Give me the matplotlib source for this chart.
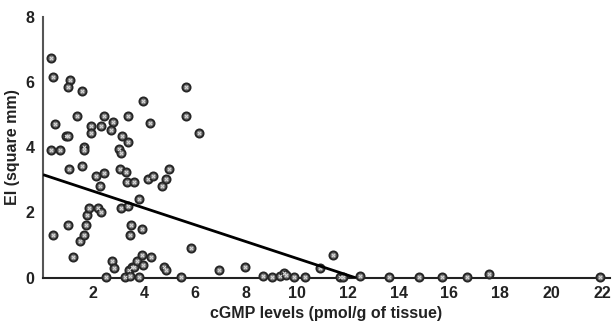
import numpy as np
import matplotlib
matplotlib.use('Agg')
import matplotlib.pyplot as plt

plt.rcParams['font.family'] = ['Liberation Sans', 'DejaVu Sans']

# cGMP levels (pmol/g of tissue) vs EI (square mm)
cgmp = [0.34, 0.44, 1.10, 1.01, 1.58, 0.52, 1.37, 0.93, 1.03, 0.35, 0.73, 1.66, 1.66,
        1.92, 1.91, 2.33, 2.42, 2.80, 2.71, 3.38, 3.15, 3.40, 3.02, 3.11, 3.95, 4.25,
        5.66, 5.66, 6.17,
        1.06, 1.56, 2.14, 2.44, 2.30, 3.06, 3.29, 3.35, 3.61, 3.80, 4.17, 4.37, 4.72,
        4.86, 4.98, 3.12, 3.38,
        0.42, 1.03, 1.24, 1.50, 1.65, 1.75, 1.78, 1.83, 2.21, 2.34, 2.51, 2.77, 2.85,
        3.49, 3.45, 3.93, 3.27, 3.42, 3.53, 3.63, 3.45, 3.75, 3.93, 3.97, 3.82, 4.30,
        4.78, 4.89, 5.48, 5.86, 6.94, 7.96, 8.68, 9.05, 9.33, 9.49, 9.60, 9.88, 10.31,
        10.93, 11.44, 11.69, 11.82, 12.50, 13.62, 14.80, 15.71, 16.68, 17.56, 21.91]
ei = [6.74, 6.15, 6.05, 5.84, 5.74, 4.72, 4.95, 4.33, 4.33, 3.92, 3.92, 4.02, 3.92,
      4.66, 4.44, 4.66, 4.95, 4.76, 4.54, 4.95, 4.35, 4.15, 3.95, 3.82, 5.43, 4.74,
      5.85, 4.95, 4.44,
      3.33, 3.43, 3.12, 3.22, 2.82, 3.33, 3.25, 2.94, 2.94, 2.41, 3.02, 3.12, 2.82,
      3.02, 3.33, 2.12, 2.20,
      1.30, 1.61, 0.62, 1.13, 1.30, 1.61, 1.91, 2.12, 2.13, 2.02, 0.02, 0.52, 0.28,
      1.61, 1.30, 1.50, 0.03, 0.23, 0.33, 0.31, 0.05, 0.52, 0.69, 0.38, 0.03, 0.62,
      0.33, 0.23, 0.02, 0.92, 0.23, 0.31, 0.05, 0.03, 0.05, 0.15, 0.07, 0.02, 0.02,
      0.28, 0.69, 0.02, 0.02, 0.05, 0.02, 0.02, 0.02, 0.02, 0.10, 0.03]

# regression line
fit_intercept = 3.17
fit_slope = -0.258
fit_start = 0.1

fig = plt.figure(figsize=(6.13, 3.25), dpi=100)
ax = fig.add_axes([0.070, 0.146, 0.925, 0.802])

ax.scatter(cgmp, ei, s=34, facecolor='#7a7a7a', edgecolor='#262626', linewidth=1.4,
           zorder=3, clip_on=False)
# light speck in the middle of each marker
ax.scatter(cgmp, ei, s=5, marker='x', color='#d8d8d8', linewidth=0.8, zorder=3,
           clip_on=False)

fit_end = -fit_intercept / fit_slope
fx = np.array([fit_start, fit_end])
ax.plot(fx, fit_intercept + fit_slope * fx, color='black', lw=2, zorder=4)

ax.set_xlim(0.04, 22.3)
ax.set_ylim(0, 8)
ax.set_xticks(range(2, 23, 2))
ax.set_yticks(range(0, 9, 2))
ax.tick_params(length=0, labelsize=11.5, pad=6)
for lab in ax.get_xticklabels() + ax.get_yticklabels():
    lab.set_fontweight('bold')
    lab.set_color('#222')

for s in ['top', 'right']:
    ax.spines[s].set_visible(False)
ax.spines['left'].set_color('#555')
ax.spines['bottom'].set_color('#222')
ax.spines['left'].set_linewidth(1.5)
ax.spines['bottom'].set_linewidth(1.5)

ax.set_xlabel('cGMP levels (pmol/g of tissue)', fontsize=11.5, fontweight='bold',
              color='#222', labelpad=4)
ax.set_ylabel('EI (square mm)', fontsize=11.5, fontweight='bold', color='#222',
              labelpad=4)

fig.savefig('out.png', dpi=100)
